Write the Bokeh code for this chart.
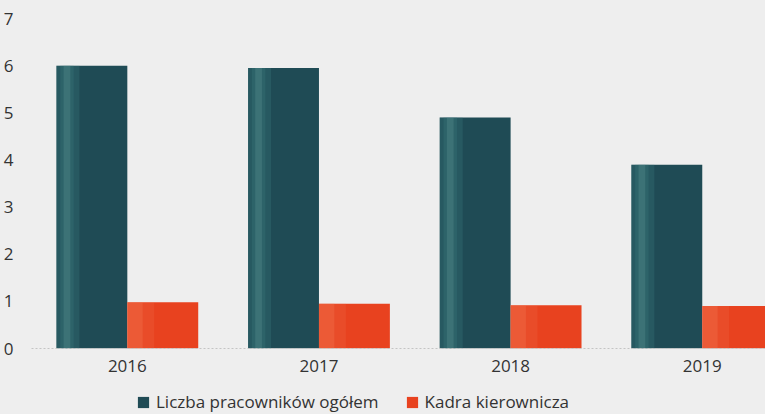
from bokeh.plotting import figure
from bokeh.layouts import column
from bokeh.models import Range1d, FixedTicker, Legend, LegendItem, ColumnDataSource
from bokeh.embed import file_html
from bokeh.resources import INLINE

years = ["2016", "2017", "2018", "2019"]
total_staff = [6.0, 5.95, 4.9, 3.9]
management = [0.98, 0.95, 0.92, 0.9]
y_ticks = [0, 1, 2, 3, 4, 5, 6, 7]
series_names = ["Liczba pracowników ogółem", "Kadra kierownicza"]

BG = "#eeeeee"
TEAL = "#1f4b55"
TEAL_LIGHT = "#3d7a7e"
TEAL_HI = "#6aa0a0"
ORANGE = "#e8421f"
ORANGE_LIGHT = "#f27a55"
TEXT = "#333333"
FONT = "Open Sans"
FS = "17px"

xs = list(range(len(years)))
bw = 0.37
src = ColumnDataSource(dict(
    x_t=[x - bw / 2 for x in xs],
    x_o=[x + bw / 2 for x in xs],
    x_t_edge=[x - bw + 0.06 for x in xs],
    x_t_hi=[x - bw + 0.055 for x in xs],
    x_o_edge=[x + 0.04 for x in xs],
    x_o_edge2=[x + 0.07 for x in xs],
    total=total_staff,
    mgmt=management,
))

p = figure(width=765, height=380, output_backend="svg", toolbar_location=None,
           x_range=Range1d(-0.5, 3.33), y_range=Range1d(0, 7.13),
           min_border_left=22, min_border_right=0, min_border_top=12,
           min_border_bottom=32)
p.background_fill_color = BG
p.border_fill_color = BG
p.outline_line_color = None
p.grid.visible = False

p.vbar(x="x_t", top="total", width=bw, source=src, color=TEAL, line_color=None)
p.vbar(x="x_t_edge", top="total", width=0.12, source=src, color=TEAL_LIGHT,
       alpha=0.3, line_color=None)
p.vbar(x="x_t_hi", top="total", width=0.07, source=src, color=TEAL_LIGHT,
       alpha=0.3, line_color=None)
p.vbar(x="x_t_hi", top="total", width=0.035, source=src, color=TEAL_HI,
       alpha=0.25, line_color=None)
p.vbar(x="x_o", top="mgmt", width=bw, source=src, color=ORANGE, line_color=None)
p.vbar(x="x_o_edge", top="mgmt", width=0.08, source=src, color=ORANGE_LIGHT,
       alpha=0.3, line_color=None)
p.vbar(x="x_o_edge2", top="mgmt", width=0.14, source=src, color=ORANGE_LIGHT,
       alpha=0.2, line_color=None)

p.xaxis.ticker = FixedTicker(ticks=xs)
p.xaxis.major_label_overrides = {x: y for x, y in zip(xs, years)}
p.xaxis.major_tick_line_color = None
p.xaxis.minor_tick_line_color = None
p.xaxis.axis_line_color = "#c4c4c4"
p.xaxis.axis_line_dash = "2 2"
p.xaxis.major_label_standoff = 5

p.yaxis.ticker = FixedTicker(ticks=y_ticks)
p.yaxis.major_tick_line_color = None
p.yaxis.minor_tick_line_color = None
p.yaxis.axis_line_color = None
p.yaxis.major_label_standoff = 12

for ax in (p.xaxis, p.yaxis):
    ax.major_label_text_font = FONT
    ax.major_label_text_font_size = FS
    ax.major_label_text_color = TEXT

# legend strip below the chart (its bars lie outside its visible ranges)
lg = figure(width=765, height=34, output_backend="svg", toolbar_location=None,
            min_border=0, x_range=Range1d(100, 101), y_range=Range1d(100, 101))
lg.axis.visible = False
lg.grid.visible = False
lg.outline_line_color = None
lg.background_fill_color = BG
lg.border_fill_color = BG
g1 = lg.vbar(x="x_t", top="total", width=bw, source=src, color=TEAL, line_color=None)
g2 = lg.vbar(x="x_o", top="mgmt", width=bw, source=src, color=ORANGE, line_color=None)
legend = Legend(items=[LegendItem(label=series_names[0], renderers=[g1]),
                       LegendItem(label=series_names[1], renderers=[g2])],
                orientation="horizontal", location=(105, 1),
                background_fill_alpha=0, border_line_color=None,
                label_text_font=FONT, label_text_font_size=FS,
                label_text_color=TEXT, glyph_width=14, glyph_height=14,
                spacing=26, padding=0, margin=0, label_standoff=6)
lg.add_layout(legend, "center")

layout = column(p, lg, spacing=0, styles={"background-color": BG})
open("out.html", "w").write(file_html(layout, INLINE))
